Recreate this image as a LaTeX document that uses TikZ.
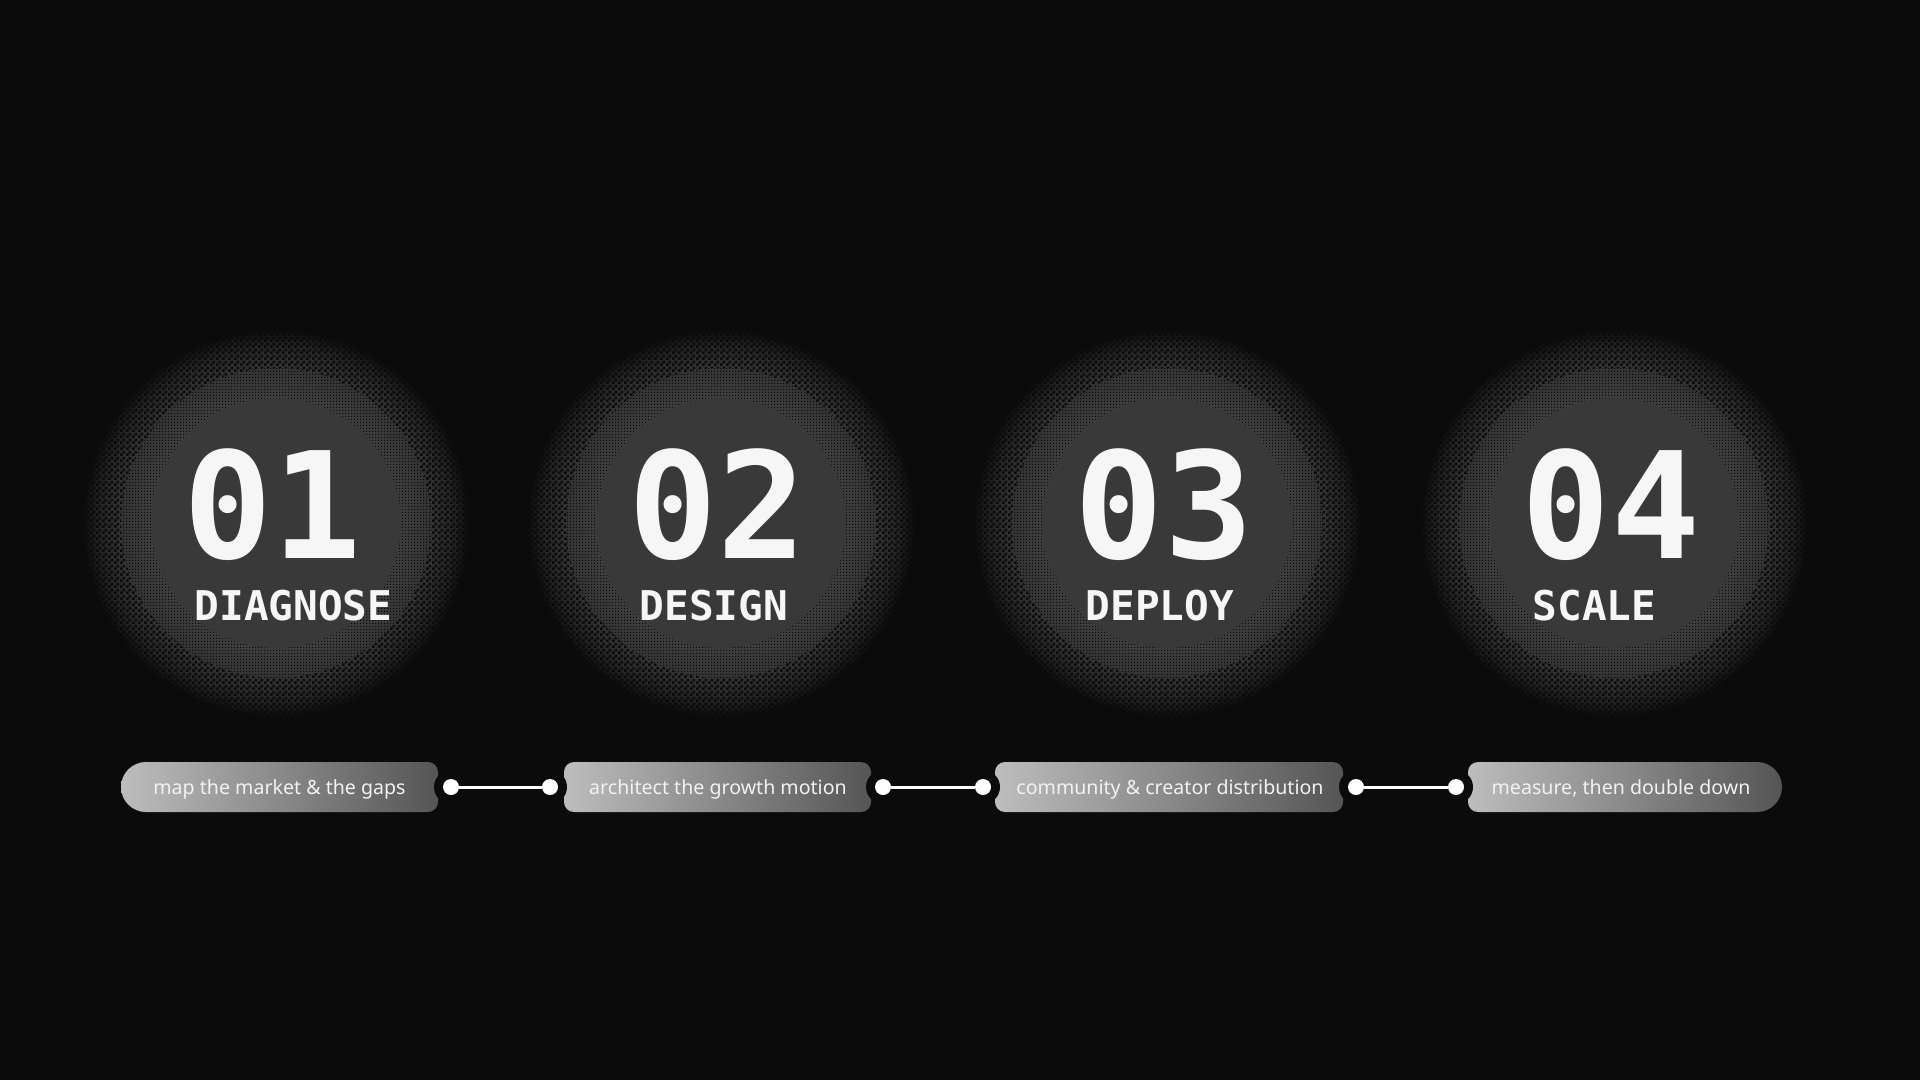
\documentclass[tikz,border=0pt]{standalone}
\usepackage{fontspec}
\setmainfont{Noto Sans}
\setmonofont{DejaVu Sans Mono}
\usepackage{tikz}
\usetikzlibrary{positioning,patterns}

\definecolor{bgc}{HTML}{0B0B0B}
\definecolor{diskc}{HTML}{393939}
\definecolor{ringc}{HTML}{3E3E3E}
\definecolor{ringmid}{HTML}{343434}
\definecolor{ringout}{HTML}{222222}
\definecolor{numc}{HTML}{F6F6F6}
\definecolor{pillL}{HTML}{BDBDBD}
\definecolor{pillR}{HTML}{555555}
\definecolor{pilltxt}{HTML}{F2F2F2}

% soft disk behind every step number (25bp = rim)
\pgfdeclareradialshading{halo}{\pgfpoint{0bp}{0bp}}{color(0bp)=(diskc); color(16.1bp)=(diskc); color(16.2bp)=(ringc); color(20bp)=(ringmid); color(23bp)=(ringout); color(25bp)=(bgc); color(50bp)=(bgc)}
% dark dots for the halftone ring
\pgfdeclarepatternformonly{halftonelight}{\pgfqpoint{0pt}{0pt}}{\pgfqpoint{3pt}{3pt}}{\pgfqpoint{3pt}{3pt}}{%
  \pgfpathrectangle{\pgfqpoint{0pt}{0pt}}{\pgfqpoint{1.5pt}{1.5pt}}%
  \pgfusepath{fill}}
\pgfdeclarepatternformonly{halftone}{\pgfqpoint{0pt}{0pt}}{\pgfqpoint{6pt}{6pt}}{\pgfqpoint{6pt}{6pt}}{%
  \pgfpathrectangle{\pgfqpoint{0pt}{0pt}}{\pgfqpoint{3pt}{3pt}}%
  \pgfpathrectangle{\pgfqpoint{3pt}{3pt}}{\pgfqpoint{3pt}{3pt}}%
  \pgfusepath{fill}}

\tikzset{
  stepnum/.style={font=\ttfamily\bfseries\fontsize{148}{148}\selectfont, text=numc, anchor=base, inner sep=0pt, text depth=0pt},
  steplabel/.style={font=\ttfamily\bfseries\fontsize{41}{41}\selectfont, text=numc, anchor=base west, inner sep=0pt},
  pillfill/.style={left color=pillL, right color=pillR},
  pilltext/.style={font=\fontsize{19.6}{19.6}\selectfont, text=pilltxt, inner sep=0pt, anchor=base},
  knot/.style={circle, fill=white, minimum size=16pt, inner sep=0pt},
  link/.style={white, line width=3pt},
}

\begin{document}
\begin{tikzpicture}[x=1pt, y=-1pt]
	\fill[bgc] (0,0) rectangle (1920,1080);
	\useasboundingbox (0,0) rectangle (1920,1080);

	% halos, numbers and titles
	\foreach \cx/\n/\lab [count=\i] in {276/01/DIAGNOSE, 721/02/DESIGN, 1167/03/DEPLOY, 1614/04/SCALE} {
		\shade[shading=halo] (\cx,523) circle (194pt);
		\fill[pattern=halftonelight, pattern color=bgc, even odd rule] (\cx,523) circle (155pt) (\cx,523) circle (125pt);
		\fill[pattern=halftone, pattern color=bgc, even odd rule] (\cx,523) circle (194pt) (\cx,523) circle (155pt);
		\node[stepnum] (num\i) at (\cx-3,558) {\n};
		\node[steplabel] (lab\i) at ([xshift=11pt, yshift=-62pt]num\i.base west) {\lab};
	}

	% pills
	\shade[pillfill, rounded corners=10pt] (280,762) -- (438,762) -- (438,812) -- (280,812)
		[rounded corners=25pt] -- (121,812) -- (121,762) -- cycle;
	\shade[pillfill, rounded corners=10pt] (564,762) rectangle (871,812);
	\shade[pillfill, rounded corners=10pt] (995,762) rectangle (1343,812);
	\shade[pillfill, rounded corners=10pt] (1625,812) -- (1468,812) -- (1468,762) -- (1625,762)
		[rounded corners=25pt] -- (1782,762) -- (1782,812) -- cycle;

	% notches round the dots
	\foreach \x in {451,550,883,983,1356,1456}
		\fill[bgc] (\x,787) circle (17pt);

	\node[pilltext] (p1) at (279.5,794) {map the market \& the gaps};
	\node[pilltext] (p2) at (718,794) {architect the growth motion};
	\node[pilltext] (p3) at (1170,794) {community \& creator distribution};
	\node[pilltext] (p4) at (1621,794) {measure, then double down};

	% dots and links
	\node[knot] (d1a) at (451,787) {};
	\node[knot] (d1b) at (550,787) {};
	\node[knot] (d2a) at (883,787) {};
	\node[knot] (d2b) at (983,787) {};
	\node[knot] (d3a) at (1356,787) {};
	\node[knot] (d3b) at (1456,787) {};

	\draw[link] (d1a) -- (d1b);
	\draw[link] (d2a) -- (d2b);
	\draw[link] (d3a) -- (d3b);
\end{tikzpicture}
\end{document}
